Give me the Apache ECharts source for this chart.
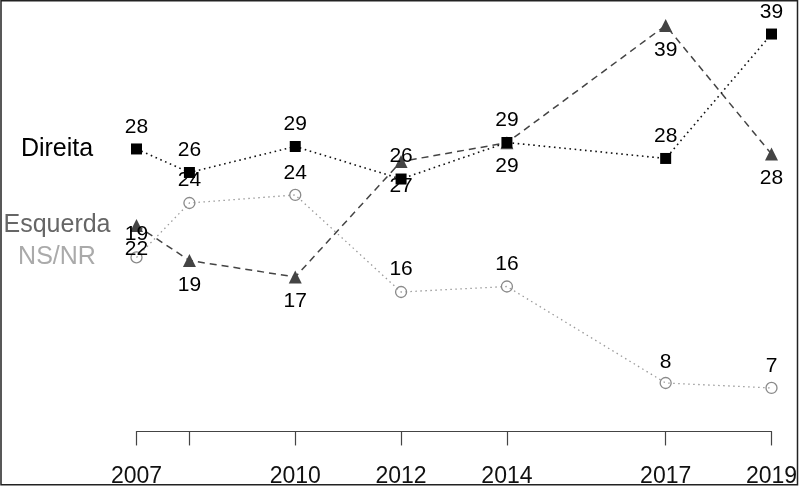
<!DOCTYPE html>
<html>
<head>
<meta charset="utf-8">
<script src="https://cdn.jsdelivr.net/npm/echarts@6/dist/echarts.min.js"></script>
<style>
html,body{margin:0;padding:0;background:#fff;}
#chart{width:799px;height:486px;}
</style>
</head>
<body>
<div id="chart"></div>
<script>
// ---- data ----
const years = [2007, 2008, 2010, 2012, 2014, 2017, 2019];
const tickYears = [2007, 2008, 2010, 2012, 2014, 2017, 2019];
const labelYears = [2007, 2010, 2012, 2014, 2017, 2019];
const seriesNames = ['Direita', 'Esquerda', 'NS/NR'];
const direita = [28.45, 26.37, 28.67, 25.79, 29.02, 27.61, 38.62];
const esquerda = [21.68, 18.58, 17.12, 27.34, 29.0, 39.38, 28.0];
const nsnr = [18.85, 23.67, 24.38, 15.79, 16.28, 7.74, 7.3];
const direitaLabels = ['28', '26', '29', '27', '29', '28', '39'];
const esquerdaLabels = ['19', '19', '17', '26', '29', '39', '28'];
const nsnrLabels = ['22', '24', '24', '16', '16', '8', '7'];

// ---- label placement (style) ----
const direitaDy = [-22, -22, -22, 7, -22, -22, -22];
const esquerdaDy = [9, 24.5, 24, -5.5, 23.5, 24.5, 24];
const nsnrDy = [-8, -22.5, -21.5, -22.5, -22.5, -20.5, -22];

const FONT = '"Liberation Sans", Arial, Helvetica, sans-serif';

function buildData(vals, labels, dys) {
  return vals.map((v, i) => ({
    value: [years[i], v],
    label: { formatter: labels[i], offset: [0, dys[i]] }
  }));
}

const labelBase = {
  show: true, position: 'inside', color: '#000',
  fontFamily: FONT, fontSize: 21
};

const chart = echarts.init(document.getElementById('chart'), null, { renderer: 'canvas' });

const option = {
  animation: false,
  backgroundColor: '#fff',
  grid: {
    left: 136.5, right: 27.5, top: 7.15, bottom: 72.05,
    containLabel: false, outerBoundsMode: 'none'
  },
  xAxis: {
    type: 'value', min: 2007, max: 2019,
    offset: 17.5,
    splitLine: { show: false },
    axisLine: { show: true, onZero: false, lineStyle: { color: '#444', width: 1.2 } },
    axisTick: { show: true, length: 14, customValues: tickYears, lineStyle: { color: '#444', width: 1.2 } },
    axisLabel: {
      show: true, customValues: labelYears, margin: 34,
      color: '#111', fontFamily: FONT, fontSize: 23,
      formatter: v => String(v)
    }
  },
  yAxis: { type: 'value', min: 5, max: 41, show: false, splitLine: { show: false } },
  series: [
    {
      name: seriesNames[2], type: 'line', z: 2,
      data: buildData(nsnr, nsnrLabels, nsnrDy),
      symbol: 'circle', symbolSize: 11,
      itemStyle: { color: 'rgba(255,255,255,0)', borderColor: '#8a8a8a', borderWidth: 1.3 },
      lineStyle: { color: '#9a9a9a', width: 1.3, type: [1.5, 3.5] },
      label: labelBase,
      emphasis: { disabled: true }
    },
    {
      name: seriesNames[1], type: 'line', z: 3,
      data: buildData(esquerda, esquerdaLabels, esquerdaDy),
      symbol: 'triangle', symbolSize: 13,
      itemStyle: { color: '#444' },
      lineStyle: { color: '#444', width: 1.5, type: [7, 5] },
      label: labelBase,
      emphasis: { disabled: true }
    },
    {
      name: seriesNames[0], type: 'line', z: 4,
      data: buildData(direita, direitaLabels, direitaDy),
      symbol: 'rect', symbolSize: 11,
      itemStyle: { color: '#000' },
      lineStyle: { color: '#111', width: 1.6, type: [1.6, 3.6] },
      label: labelBase,
      emphasis: { disabled: true }
    }
  ]
};
chart.setOption(option);

// left-side series names, placed at the first value of each series
const nameColors = ['#000', '#666', '#aaa'];
const firstVals = [direita[0], esquerda[0], nsnr[0]];
const graphics = seriesNames.map((n, i) => {
  const p = chart.convertToPixel({ gridIndex: 0 }, [years[0], firstVals[i]]);
  return {
    type: 'text', x: 57, y: p[1],
    style: {
      text: n, fill: nameColors[i], font: '25px ' + FONT,
      textAlign: 'center', textVerticalAlign: 'middle'
    }
  };
});
graphics.push({
  type: 'rect', shape: { x: 1, y: 0.75, width: 796.5, height: 484 },
  style: { fill: 'none', stroke: '#222', lineWidth: 1.5 }, silent: true
});
chart.setOption({ graphic: graphics });
</script>
</body>
</html>
